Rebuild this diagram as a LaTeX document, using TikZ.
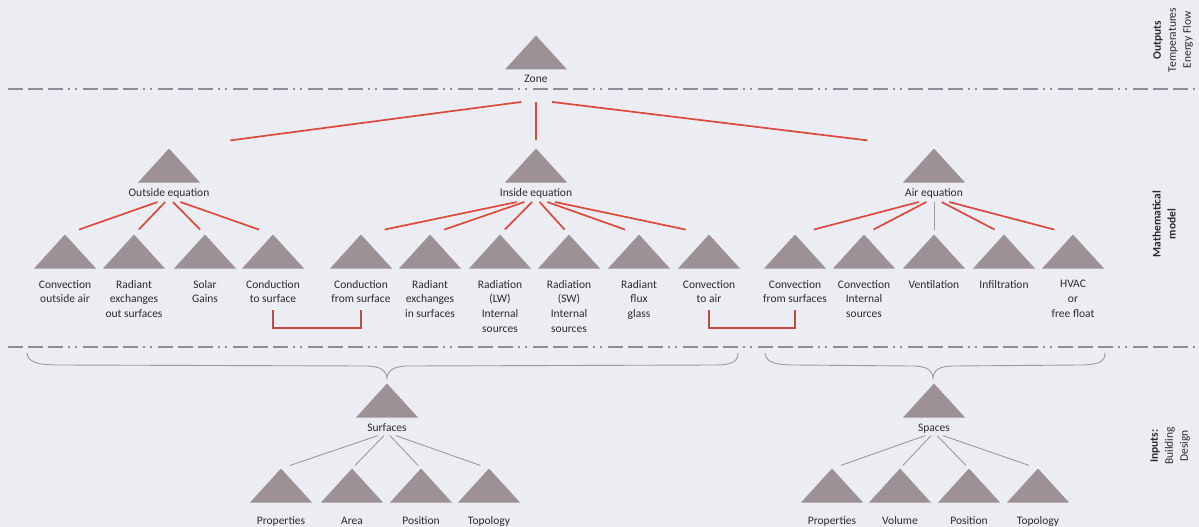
\documentclass[tikz,border=0pt]{standalone}
\usepackage{fontspec}
\setmainfont{Carlito}
\usetikzlibrary{calc}

\definecolor{bgcol}{HTML}{ECECF3}
\definecolor{tricol}{HTML}{9C9296}
\definecolor{linkred}{HTML}{DB4A3C}
\definecolor{brackred}{HTML}{C04B45}
\definecolor{dashgrey}{HTML}{8C8C94}
\definecolor{thingrey}{HTML}{9A9AA2}
\definecolor{txtcol}{HTML}{2A2A30}

\begin{document}
\begin{tikzpicture}[x=1pt,y=-1pt,
  tri/.style={minimum width=62pt, minimum height=34pt, inner sep=0pt, outer sep=0pt,
    path picture={\fill[tricol] (path picture bounding box.south west)
      -- (path picture bounding box.north) -- (path picture bounding box.south east) -- cycle;}},
  lbl/.style={font=\fontsize{11.5}{14.7}\selectfont, text=txtcol, align=center, inner sep=0pt},
  side/.style={font=\fontsize{11.5}{15}\selectfont, text=txtcol, align=center, inner sep=0pt, rotate=90},
  redlink/.style={draw=linkred, line width=1.7pt},
  greylink/.style={draw=thingrey, line width=0.9pt},
  bracketline/.style={draw=brackred, line width=1.4pt},
  sepline/.style={draw=dashgrey, line width=1.5pt,
    dash pattern=on 15pt off 5pt on 15pt off 5pt on 15pt off 5pt on 2pt off 5pt on 2pt off 6pt},
  bracecurve/.style={draw=thingrey, line width=0.9pt}]

% page
\fill[bgcol] (0,0) rectangle (1199,527);
\useasboundingbox (0,0) rectangle (1199,527);

% layer separators
\draw[sepline] (8,89) -- (1199,89);
\draw[sepline] (8,347) -- (1199,347);

% outputs: zone
\node[tri] (zone) at (536,52.5) {};
\node[lbl, anchor=base] (zoneL) at (536,82.5) {Zone};

% mathematical model: balance equations
\node[tri] (out) at (169,165.5) {};
\node[lbl, anchor=base] (outL) at (169,196) {Outside equation};
\node[tri] (ins) at (536,165.5) {};
\node[lbl, anchor=base] (insL) at (536,196) {Inside equation};
\node[tri] (air) at (934,165.5) {};
\node[lbl, anchor=base] (airL) at (934,196) {Air equation};

% heat transfer terms
\foreach \n/\x/\lab in {
  o1/65/{Convection\\outside air},
  o2/134/{Radiant\\exchanges\\out surfaces},
  o3/205/{Solar\\Gains},
  o4/273/{Conduction\\to surface},
  i1/361/{Conduction\\from surface},
  i2/430/{Radiant\\exchanges\\in surfaces},
  i3/500/{Radiation\\(LW)\\Internal\\sources},
  i4/569/{Radiation\\(SW)\\Internal\\sources},
  i5/639/{Radiant\\flux\\glass},
  i6/709/{Convection\\to air},
  a1/795/{Convection\\from surfaces},
  a2/864/{Convection\\Internal\\sources},
  a3/934/{Ventilation},
  a4/1004/{Infiltration},
  a5/1073/{HVAC\\or\\free float}}{
  \node[tri] (\n) at (\x,251.5) {};
  \node[lbl, anchor=north] (L\n) at (\x,280) {\lab};
}

% zone -> equations
\coordinate (zH) at ([yshift=-17.5pt]zoneL.base);
\foreach \c in {out,ins,air}
  \draw[redlink] ($(zH)!0.04!(\c.north)$) -- ($(zH)!0.833!(\c.north)$);

% equations -> terms
\coordinate (oH) at ([yshift=-2pt]outL.base);
\foreach \c in {o1,o2,o3,o4}
  \draw[redlink] ($(oH)!0.11!(\c.north)$) -- ($(oH)!0.865!(\c.north)$);
\coordinate (iH) at ([yshift=-2pt]insL.base);
\foreach \c in {i1,i2,i3,i4,i5,i6}
  \draw[redlink] ($(iH)!0.11!(\c.north)$) -- ($(iH)!0.865!(\c.north)$);
\coordinate (aH) at ([yshift=-2pt]airL.base);
\foreach \c in {a1,a2,a4,a5}
  \draw[redlink] ($(aH)!0.11!(\c.north)$) -- ($(aH)!0.865!(\c.north)$);
\draw[greylink] ($(aH)!0.11!(a3.north)$) -- ($(aH)!0.865!(a3.north)$);

% coupled terms
\coordinate (bTop) at (0,310);
\coordinate (bBot) at (0,328);
\draw[bracketline] (Lo4.north |- bTop) -- (Lo4.north |- bBot) -- (Li1.north |- bBot) -- (Li1.north |- bTop);
\draw[bracketline] (Li6.north |- bTop) -- (Li6.north |- bBot) -- (La1.north |- bBot) -- (La1.north |- bTop);

% braces grouping the terms by input
\draw[bracecurve] (27,353) .. controls (28,362) and (36,365) .. (60,365) -- (365,366)
  .. controls (380,366) and (386,370) .. (387,378)
  .. controls (388,370) and (394,366) .. (409,366) -- (715,365)
  .. controls (733,365) and (738,361) .. (738,353);
\draw[bracecurve] (765,353) .. controls (766,362) and (774,365) .. (795,365) -- (912,366)
  .. controls (927,366) and (932,370) .. (933,378)
  .. controls (934,370) and (939,366) .. (954,366) -- (1080,365)
  .. controls (1100,365) and (1105,361) .. (1105,353);

% inputs: building design
\node[tri] (surf) at (387,400.5) {};
\node[lbl, anchor=base] (surfL) at (387,431.5) {Surfaces};
\node[tri] (spac) at (934,400.5) {};
\node[lbl, anchor=base] (spacL) at (934,431.5) {Spaces};

\foreach \n/\x/\lab in {s1/281/Properties, s2/352/Area, s3/421/Position, s4/489/Topology,
                        p1/832/Properties, p2/900/Volume, p3/969/Position, p4/1038/Topology}{
  \node[tri] (\n) at (\x,485.5) {};
  \node[lbl, anchor=base] (L\n) at (\x,524.5) {\lab};
}

\coordinate (sH) at ([yshift=-1pt]surfL.base);
\foreach \c in {s1,s2,s3,s4}
  \draw[greylink] ($(sH)!0.085!(\c.north)$) -- ($(sH)!0.915!(\c.north)$);
\coordinate (pH) at ([yshift=-1pt]spacL.base);
\foreach \c in {p1,p2,p3,p4}
  \draw[greylink] ($(pH)!0.085!(\c.north)$) -- ($(pH)!0.915!(\c.north)$);

% layer captions
\node[side] (capOut) at (1173,40) {\textbf{Outputs}\\Temperatures\\Energy Flow};
\node[side] (capMod) at (1164,224) {\textbf{Mathematical}\\\textbf{model}};
\node[side] (capIn) at (1170,446) {\textbf{Inputs:}\\Building\\Design};

\end{tikzpicture}
\end{document}
